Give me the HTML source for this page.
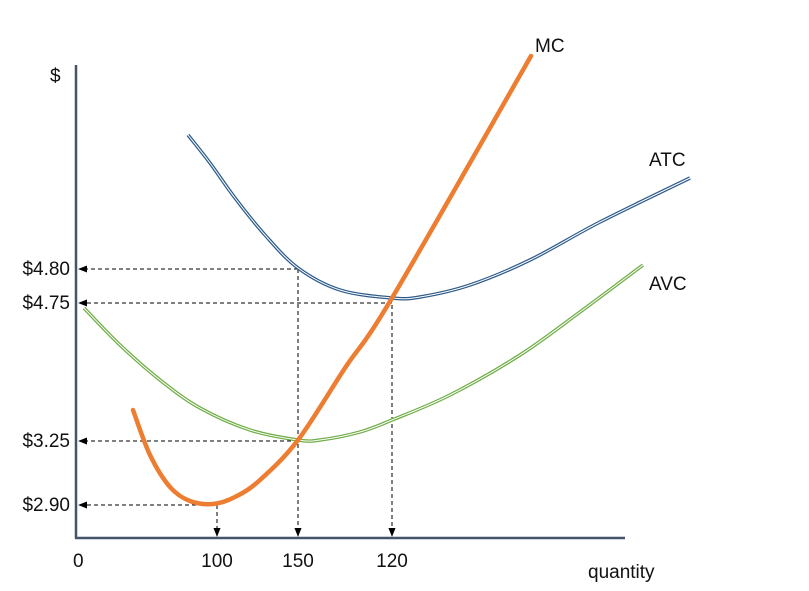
<!DOCTYPE html>
<html><head><meta charset="utf-8"><style>
body{margin:0;background:#fff;}
svg{display:block;font-family:"Liberation Sans",sans-serif;}
text{font-size:19px;fill:#111;}
</style></head><body>
<svg id="c" width="809" height="591" viewBox="0 0 809 591">
<defs><marker id="ah" viewBox="0 0 10 10" refX="9" refY="5" markerWidth="9" markerHeight="9" orient="auto"><path d="M0,1 L10,5 L0,9 z" fill="#000"/></marker></defs>
<g id="guides"></g>
<g id="curves"></g>
<line x1="76" y1="65" x2="76" y2="538" stroke="#44546A" stroke-width="2.5"/>
<line x1="75" y1="538" x2="625" y2="538" stroke="#44546A" stroke-width="2.5"/>
<text x="50" y="82">$</text>
<text x="588" y="578">quantity</text>
<text x="73" y="567">0</text>
<text x="535" y="52">MC</text>
<text x="649" y="166">ATC</text>
<text x="649" y="290">AVC</text>
<g id="labels"></g>
</svg>
<script>
// data in axis units: x = offset from y-axis, y = height above x-axis
const mcX=[57,74,94,114,137,159,184,222,269,316,455];
const mcY=[128,83,51,37,34,41,58,98,170,240,482];
const atcX=[112,134,159,189,222,264,316,344,394,454,524,614];
const atcY=[403,375,340,303,270,248,240,241,253,278,316,360];
const avcX=[8,44,84,124,174,222,244,284,316,374,444,504,567];
const avcY=[230,193,158,130,108,98,98,106,118,143,183,226,273];
const priceLabels=["$4.80","$4.75","$3.25","$2.90"];
const priceVals=[269,235,97,33];
const priceToX=[222,316,222,141];
const qtyLabels=["100","150","120"];
const qtyX=[141,222,316];
const qtyFromY=[33,269,240];

const X=v=>76+v, Y=v=>538-v;
const NS="http://www.w3.org/2000/svg";
function mk(t,a,p){const e=document.createElementNS(NS,t);for(const k in a)e.setAttribute(k,a[k]);p.appendChild(e);return e;}
function path(xs,ys){const p=xs.map((x,i)=>[X(x),Y(ys[i])]);let d=`M${p[0][0]},${p[0][1]}`;
for(let i=0;i<p.length-1;i++){const p0=p[i-1]||p[i],p1=p[i],p2=p[i+1],p3=p[i+2]||p2;
d+=` C${p1[0]+(p2[0]-p0[0])/6},${p1[1]+(p2[1]-p0[1])/6} ${p2[0]-(p3[0]-p1[0])/6},${p2[1]-(p3[1]-p1[1])/6} ${p2[0]},${p2[1]}`;}return d;}
const cg=document.getElementById('curves'),gg=document.getElementById('guides'),lg=document.getElementById('labels');
let e;
e=mk('path',{d:path(atcX,atcY),fill:'none',stroke:'#2E5C8A','stroke-width':3.5},cg);


mk('path',{d:path(atcX,atcY),fill:'none',stroke:'#fff','stroke-width':1},cg);
e=mk('path',{d:path(avcX,avcY),fill:'none',stroke:'#70AD47','stroke-width':3.5},cg);


mk('path',{d:path(avcX,avcY),fill:'none',stroke:'#fff','stroke-width':1},cg);
priceLabels.forEach((l,i)=>{
 e=mk('line',{x1:X(priceToX[i]),y1:Y(priceVals[i]),x2:79,y2:Y(priceVals[i]),stroke:'#000','stroke-width':1,'stroke-dasharray':'4,3','marker-end':'url(#ah)'},gg);
 
 
 const t=mk('text',{x:70,y:Y(priceVals[i])+6,'text-anchor':'end'},lg);t.textContent=l;
 
 
});
qtyLabels.forEach((l,i)=>{
 e=mk('line',{x1:X(qtyX[i]),y1:Y(qtyFromY[i]),x2:X(qtyX[i]),y2:536,stroke:'#000','stroke-width':1,'stroke-dasharray':'4,3','marker-end':'url(#ah)'},gg);
 
 
 const t=mk('text',{x:X(qtyX[i]),y:567,'text-anchor':'middle'},lg);t.textContent=l;
 
 
});
e=mk('path',{d:path(mcX,mcY),fill:'none',stroke:'#ED7D31','stroke-width':4.5,'stroke-linecap':'round'},cg);


</script>
</body></html>
